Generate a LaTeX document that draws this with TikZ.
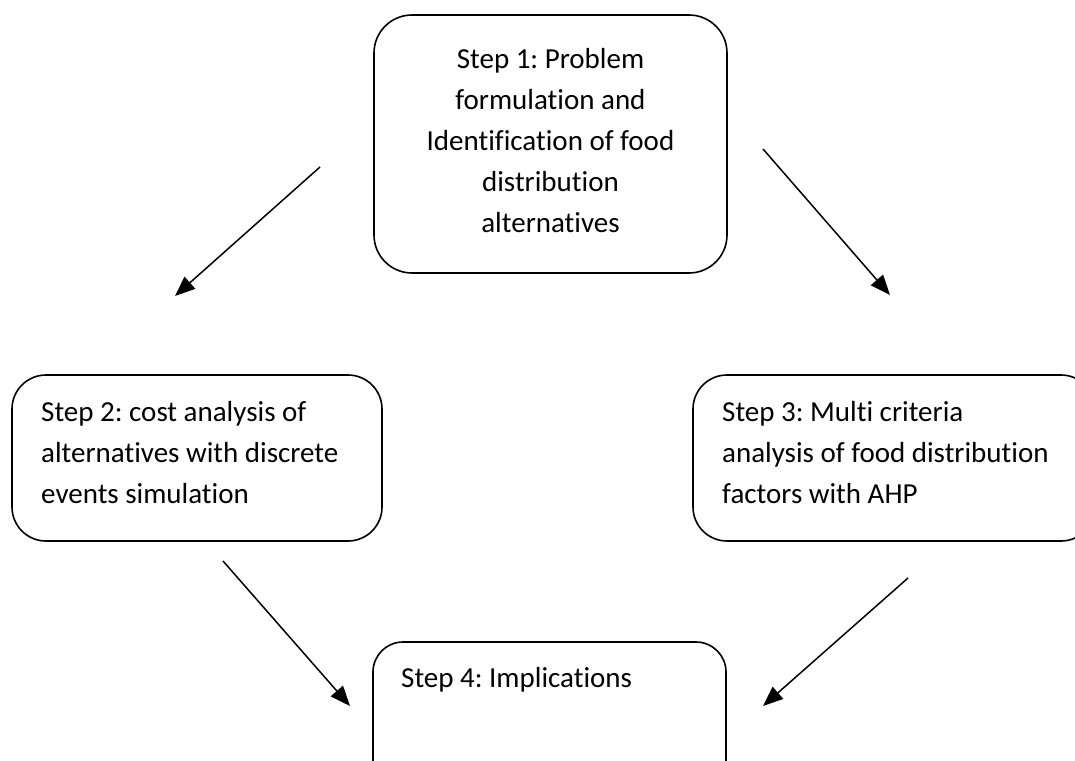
\documentclass[tikz,border=0pt]{standalone}
\usepackage{fontspec}
\setmainfont[Ligatures={NoCommon}]{Carlito}
\frenchspacing
\usetikzlibrary{arrows.meta}
\tikzset{
  stepbox/.style={draw=black, line width=1.6pt, rounded corners=38pt, rectangle, inner sep=0pt},
  steptext/.style={inner sep=0pt, font=\fontsize{29}{40.8}\selectfont, text=black},
  flow/.style={draw=black, line width=1.5pt, -{Triangle[length=20pt,width=16pt]}}
}
\begin{document}
\begin{tikzpicture}[x=1pt,y=-1pt]
\useasboundingbox (0,0) rectangle (1075,760);
\fill[white] (0,0) rectangle (1075,760);
\clip (0,0) rectangle (1075,760);
% boxes
\node[stepbox, minimum width=353pt, minimum height=258pt] (b1) at (550.5,144) {};
\node[stepbox, minimum width=370pt, minimum height=166pt, rounded corners=34pt] (b2) at (197,458) {};
\node[stepbox, minimum width=402pt, minimum height=166pt, rounded corners=34pt] (b3) at (894,458) {};
\node[stepbox, minimum width=353pt, minimum height=158pt, rounded corners=30pt] (b4) at (549.5,721) {};
% texts (base anchor = baseline of the last line)
\node[steptext, align=center, anchor=base] (t1) at (550.5,232) {Step 1: Problem\\formulation and\\Identification of food\\distribution\\alternatives};
\node[steptext, align=left, anchor=base west] (t2) at (41,503) {Step 2: cost analysis of\\alternatives with discrete\\events simulation};
\node[steptext, align=left, anchor=base west] (t3) at (722,503) {Step 3: Multi criteria\\analysis of food distribution\\factors with AHP};
\node[steptext, align=left, anchor=base west] (t4) at (401,687) {Step 4: Implications};
% connector end points
\coordinate (a1s) at (320,167);
\coordinate (a1e) at (175,296);
\coordinate (a2s) at (763,149);
\coordinate (a2e) at (890,295);
\coordinate (a3s) at (223,561);
\coordinate (a3e) at (350,706);
\coordinate (a4s) at (908,578);
\coordinate (a4e) at (763,706);
\draw[flow] (a1s) -- (a1e);
\draw[flow] (a2s) -- (a2e);
\draw[flow] (a3s) -- (a3e);
\draw[flow] (a4s) -- (a4e);
\end{tikzpicture}
\end{document}
